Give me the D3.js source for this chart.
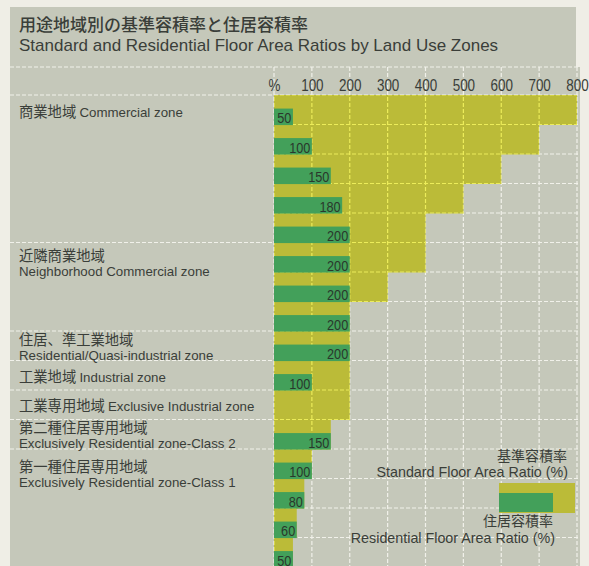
<!DOCTYPE html>
<html>
<head>
<meta charset="utf-8">
<script src="https://cdn.jsdelivr.net/npm/d3@7/dist/d3.min.js"></script>
<style>
  html, body { margin: 0; padding: 0; background: #efeee6; }
  svg { display: block; }
  .ja { font-family: "Noto Sans CJK JP", sans-serif; }
  .en { font-family: "Liberation Sans", Arial, sans-serif; }
  .num { font-family: "Liberation Sans", Arial, sans-serif; }
</style>
</head>
<body>
<script>
// Floor area ratios (%) by land use zone, one entry per row
const standardRatio    = [800, 700, 600, 500, 400, 400, 300, 200, 200, 200, 200, 150, 100, 80, 60, 50];
const residentialRatio = [50, 100, 150, 180, 200, 200, 200, 200, 200, 100, null, 150, 100, 80, 60, 50];

// Zone groups: names and how many rows each spans
const zoneNamesJa = ["商業地域", "近隣商業地域", "住居、準工業地域", "工業地域", "工業専用地域", "第二種住居専用地域", "第一種住居専用地域"];
const zoneNamesEn = ["Commercial zone", "Neighborhood Commercial zone", "Residential/Quasi-industrial zone", "Industrial zone", "Exclusive Industrial zone", "Exclusively Residential zone-Class 2", "Exclusively Residential  zone-Class 1"];
const zoneRowCounts = [5, 3, 1, 1, 1, 1, 4];

// Axis ticks
const tickValues = [0, 100, 200, 300, 400, 500, 600, 700, 800];
const tickLabels = ["%", "100", "200", "300", "400", "500", "600", "700", "800"];

// Layout of the zone labels (one line or two, and offset of the first baseline)
const labelOneLine = [true, false, false, true, true, false, false];
const labelDy = [22, 18.5, 14, 21.5, 21, 13.5, 23];

const W = 589, H = 566;
const COL = {
  outer: "#efeee6",
  panel: "#c5c8ba",
  grid: "#f1f1ea",
  yellow: "#bbbb38",
  yellowGrid: "#ecec5a",
  green: "#43a05a",
  text: "#3a3e39",
  barText: "#2a372c"
};

const svg = d3.select("body").append("svg")
  .attr("width", W).attr("height", H);

svg.append("rect").attr("width", W).attr("height", H).attr("fill", COL.outer);
// title panel and chart panel
svg.append("rect").attr("x", 10).attr("y", 7).attr("width", 566).attr("height", 61).attr("fill", COL.panel);
svg.append("rect").attr("x", 10).attr("y", 67).attr("width", 570).attr("height", H - 67).attr("fill", COL.panel);

// Scales
const x = d3.scaleLinear().domain([0, 800]).range([274, 577]);
const rowIdx = d3.range(standardRatio.length);
const y = d3.scaleBand().domain(rowIdx).range([95, 95 + 29.5 * rowIdx.length]).padding(0);
const bw = y.bandwidth();

const gridTop = 67, plotLeft = x(0), panelRight = 580, left = 10;

// Title
svg.append("text").attr("class", "ja").attr("x", 19).attr("y", 31)
  .attr("font-size", 17).attr("font-weight", 500).attr("fill", COL.text)
  .text("用途地域別の基準容積率と住居容積率");
svg.append("text").attr("class", "en").attr("x", 19).attr("y", 51)
  .attr("font-size", 17).attr("fill", COL.text)
  .text("Standard and Residential Floor Area Ratios by Land Use Zones");

// White dashed grid
const dash = "4,2";
const grid = svg.append("g").attr("stroke", COL.grid).attr("stroke-width", 1.2)
  .attr("stroke-dasharray", dash).attr("fill", "none");
grid.selectAll("line.v").data(tickValues).join("line").attr("class", "v")
  .attr("x1", d => x(d)).attr("x2", d => x(d)).attr("y1", gridTop).attr("y2", H);
grid.selectAll("line.h").data(rowIdx.concat([rowIdx.length])).join("line").attr("class", "h")
  .attr("x1", plotLeft).attr("x2", panelRight)
  .attr("y1", d => 95 + d * bw).attr("y2", d => 95 + d * bw);
// lines across the label column at zone group boundaries, and the top of the axis band
const groupStarts = [];
zoneRowCounts.reduce((acc, n) => { groupStarts.push(acc); return acc + n; }, 0);
grid.selectAll("line.g").data(groupStarts).join("line").attr("class", "g")
  .attr("x1", left).attr("x2", plotLeft)
  .attr("y1", d => y(d)).attr("y2", d => y(d));
grid.append("line").attr("x1", left).attr("x2", panelRight).attr("y1", gridTop).attr("y2", gridTop);

// Axis labels (condensed figures)
const axis = d3.axisTop(x).tickValues(tickValues)
  .tickFormat((d, i) => tickLabels[i]).tickSize(0).tickPadding(0);
const ga = svg.append("g").attr("transform", "translate(0,91)").call(axis);
ga.select(".domain").remove();
ga.selectAll("text").attr("class", "num").attr("font-size", 16.8).attr("fill", COL.text)
  .attr("transform", "scale(0.8,1)");

// Standard floor area ratio bars (yellow), full row height
const clip = svg.append("clipPath").attr("id", "stdClip");
clip.selectAll("rect").data(rowIdx).join("rect")
  .attr("x", x(0)).attr("y", i => y(i))
  .attr("width", i => x(standardRatio[i]) - x(0)).attr("height", bw + 0.5);
svg.append("g").selectAll("rect").data(rowIdx).join("rect")
  .attr("x", x(0)).attr("y", i => y(i))
  .attr("width", i => x(standardRatio[i]) - x(0)).attr("height", bw + 0.5)
  .attr("fill", COL.yellow);

// Grid shows through the yellow as a brighter yellow dash
const ygrid = svg.append("g").attr("clip-path", "url(#stdClip)")
  .attr("stroke", COL.yellowGrid).attr("stroke-width", 1.2).attr("stroke-dasharray", dash);
ygrid.selectAll("line.v").data(tickValues).join("line").attr("class", "v")
  .attr("x1", d => x(d)).attr("x2", d => x(d)).attr("y1", gridTop).attr("y2", H);
ygrid.selectAll("line.h").data(rowIdx.concat([rowIdx.length])).join("line").attr("class", "h")
  .attr("x1", plotLeft).attr("x2", panelRight)
  .attr("y1", d => 95 + d * bw).attr("y2", d => 95 + d * bw);

// Residential floor area ratio bars (green), lower part of each row
const resRows = rowIdx.filter(i => residentialRatio[i] != null);
svg.append("g").selectAll("rect").data(resRows).join("rect")
  .attr("x", x(0)).attr("y", i => y(i) + bw * 0.46)
  .attr("width", i => x(residentialRatio[i]) - x(0)).attr("height", bw * 0.56)
  .attr("fill", COL.green);
svg.append("g").selectAll("text").data(resRows).join("text")
  .attr("class", "num")
  .attr("transform", i => `translate(${x(residentialRatio[i]) - 1.5},${y(i) + bw * 1.02 - 1.8}) scale(0.82,1)`)
  .attr("text-anchor", "end").attr("font-size", 15.5).attr("fill", COL.barText)
  .text(i => residentialRatio[i]);

// Zone labels
const lab = svg.append("g").attr("fill", COL.text);
zoneNamesJa.forEach((ja, g) => {
  const top = y(groupStarts[g]);
  const t = lab.append("text").attr("x", 19).attr("y", top + labelDy[g]);
  if (labelOneLine[g]) {
    t.append("tspan").attr("class", "ja").attr("font-size", 14.3).text(ja + " ");
    t.append("tspan").attr("class", "en").attr("font-size", 13.3).text(zoneNamesEn[g]);
  } else {
    t.attr("class", "ja").attr("font-size", 14.3).text(ja);
    lab.append("text").attr("class", "en").attr("x", 19).attr("y", top + labelDy[g] + 15)
      .attr("font-size", 13.3).text(zoneNamesEn[g]);
  }
});

// Legend
const lg = svg.append("g");
lg.append("rect").attr("x", 499).attr("y", 483).attr("width", 76).attr("height", 30).attr("fill", COL.yellow);
lg.append("rect").attr("x", 499).attr("y", 493).attr("width", 54).attr("height", 19).attr("fill", COL.green);
lg.append("text").attr("class", "ja").attr("x", 567).attr("y", 461).attr("text-anchor", "end")
  .attr("font-size", 14).attr("fill", COL.text).text("基準容積率");
lg.append("text").attr("class", "en").attr("x", 568).attr("y", 477).attr("text-anchor", "end")
  .attr("font-size", 14.3).attr("fill", COL.text).text("Standard Floor Area Ratio (%)");
lg.append("text").attr("class", "ja").attr("x", 553).attr("y", 526).attr("text-anchor", "end")
  .attr("font-size", 14).attr("fill", COL.text).text("住居容積率");
lg.append("text").attr("class", "en").attr("x", 555).attr("y", 543).attr("text-anchor", "end")
  .attr("font-size", 14.3).attr("fill", COL.text).text("Residential Floor Area Ratio (%)");
</script>
</body>
</html>
